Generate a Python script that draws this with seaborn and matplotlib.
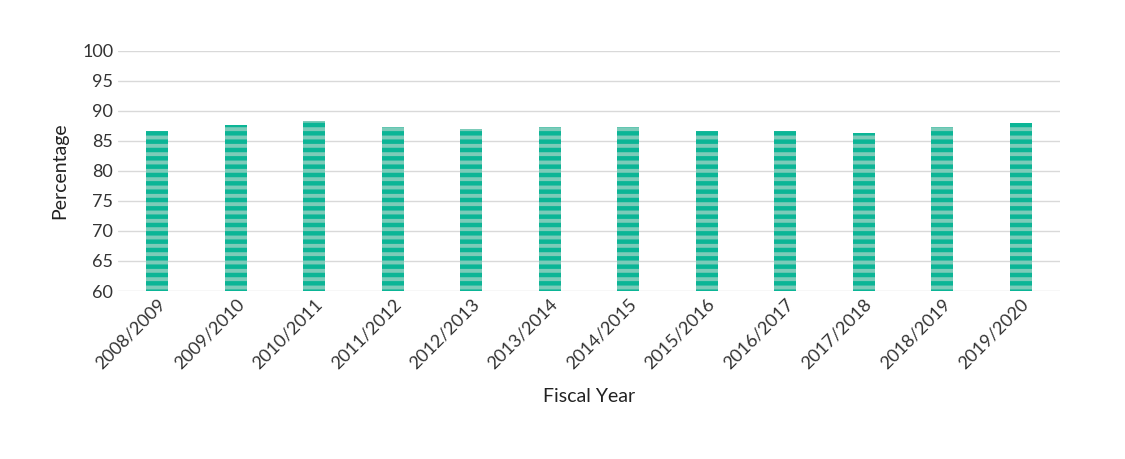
import matplotlib
matplotlib.use("Agg")
import matplotlib.pyplot as plt
import seaborn as sns
import pandas as pd

years = ["2008/2009", "2009/2010", "2010/2011", "2011/2012", "2012/2013", "2013/2014",
         "2014/2015", "2015/2016", "2016/2017", "2017/2018", "2018/2019", "2019/2020"]
values = [86.7, 87.7, 88.3, 87.3, 87.0, 87.3, 87.3, 86.7, 86.7, 86.3, 87.3, 88.0]

sns.set_theme(style="white")
plt.rcParams["font.family"] = ["Lato", "DejaVu Sans"]
plt.rcParams["hatch.linewidth"] = 2.8
plt.rcParams["hatch.color"] = "#7ccbb9"

df = pd.DataFrame({"year": years, "value": values})
fig = plt.figure(figsize=(11.25, 4.59), dpi=100)
ax = fig.add_axes([0.105, 0.366, 0.837, 0.523])
sns.barplot(data=df, x="year", y="value", color="#0bb596", width=0.28,
            saturation=1, ax=ax, zorder=3)
for p in ax.patches:
    p.set_hatch("--")
    p.set_edgecolor("#7ccbb9")
    p.set_linewidth(0)

ax.set_ylim(60, 100)
ax.set_yticks(range(60, 101, 5))
ax.yaxis.grid(True, color="#d9d9d9", linewidth=1, zorder=0)
for s in ax.spines.values():
    s.set_visible(False)
ax.tick_params(axis="both", length=0, labelsize=13, colors="#333333")
plt.setp(ax.get_xticklabels(), rotation=45, ha="right", rotation_mode="anchor")
ax.set_xlabel("Fiscal Year", fontsize=14, labelpad=12, color="#222222")
ax.set_ylabel("Percentage", fontsize=14, labelpad=10, color="#222222")
fig.savefig("out.png", dpi=100)
